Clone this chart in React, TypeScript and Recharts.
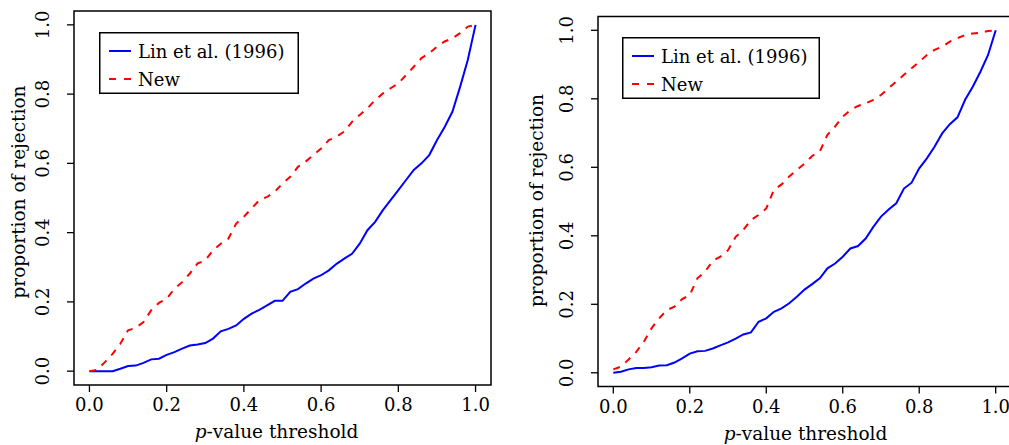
import React from 'react'
import {
  Label,
  Legend,
  Line,
  LineChart,
  ReferenceArea,
  XAxis,
  YAxis
} from 'recharts'

// p-value thresholds (x) shared by both panels
const pThreshold = [
  0, 0.02, 0.04, 0.06, 0.08, 0.1, 0.12, 0.14, 0.16, 0.18,
  0.2, 0.22, 0.24, 0.26, 0.28, 0.3, 0.32, 0.34, 0.36, 0.38,
  0.4, 0.42, 0.44, 0.46, 0.48, 0.5, 0.52, 0.54, 0.56, 0.58,
  0.6, 0.62, 0.64, 0.66, 0.68, 0.7, 0.72, 0.74, 0.76, 0.78,
  0.8, 0.82, 0.84, 0.86, 0.88, 0.9, 0.92, 0.94, 0.96, 0.98, 1
]

const linLeft = [
  0, 0, 0, 0, 0.007, 0.015, 0.016, 0.024, 0.034, 0.036,
  0.047, 0.055, 0.065, 0.074, 0.077, 0.081, 0.094, 0.115, 0.122, 0.132,
  0.151, 0.166, 0.177, 0.19, 0.203, 0.203, 0.229, 0.237, 0.253, 0.267,
  0.277, 0.291, 0.31, 0.325, 0.339, 0.368, 0.407, 0.431, 0.465, 0.494,
  0.523, 0.552, 0.581, 0.6, 0.624, 0.667, 0.705, 0.749, 0.821, 0.899, 1
]

const newLeft = [
  0, 0.004, 0.026, 0.05, 0.079, 0.118, 0.125, 0.142, 0.176, 0.197,
  0.209, 0.238, 0.257, 0.282, 0.311, 0.32, 0.349, 0.368, 0.383, 0.426,
  0.446, 0.47, 0.494, 0.503, 0.518, 0.542, 0.561, 0.59, 0.605, 0.624,
  0.643, 0.667, 0.677, 0.692, 0.72, 0.74, 0.759, 0.783, 0.802, 0.817,
  0.831, 0.855, 0.879, 0.904, 0.918, 0.937, 0.952, 0.961, 0.976, 0.995, 1
]

const linRight = [
  0, 0.003, 0.01, 0.014, 0.014, 0.016, 0.021, 0.022, 0.03, 0.042,
  0.056, 0.063, 0.064, 0.071, 0.08, 0.089, 0.1, 0.112, 0.118, 0.149,
  0.159, 0.178, 0.188, 0.203, 0.222, 0.243, 0.259, 0.276, 0.305, 0.319,
  0.339, 0.363, 0.37, 0.392, 0.426, 0.456, 0.477, 0.495, 0.538, 0.555,
  0.597, 0.626, 0.66, 0.699, 0.726, 0.746, 0.797, 0.835, 0.879, 0.928, 1
]

const newRight = [
  0.01, 0.018, 0.039, 0.061, 0.091, 0.13, 0.159, 0.183, 0.193, 0.215,
  0.227, 0.276, 0.295, 0.327, 0.339, 0.358, 0.397, 0.417, 0.446, 0.461,
  0.48, 0.534, 0.55, 0.573, 0.592, 0.611, 0.633, 0.646, 0.695, 0.719,
  0.748, 0.767, 0.779, 0.787, 0.797, 0.811, 0.831, 0.85, 0.87, 0.889,
  0.908, 0.928, 0.943, 0.952, 0.967, 0.977, 0.986, 0.991, 0.993, 0.998, 1
]

const axisTicks = [0, 0.2, 0.4, 0.6, 0.8, 1]
const seriesNames = ['Lin et al. (1996)', 'New']
const xTitle = '-value threshold'
const yTitle = 'proportion of rejection'

const FONT = '"DejaVu Serif", serif'
const BLUE = '#0000ff'
const RED = '#ff0000'
const DASH = '7 7'
const domain: [number, number] = [-0.04, 1.04]

const XTick = (props: any) => {
  const {x, y, payload} = props
  return (
    <text x={x} y={y + 17} textAnchor='middle' fontFamily={FONT} fontSize={18} fill='#000'>
      {payload.value.toFixed(1)}
    </text>
  )
}

const YTick = (props: any) => {
  const {x, y, payload} = props
  const cx = x - 16
  return (
    <text
      x={cx}
      y={y}
      transform={`rotate(-90, ${cx}, ${y})`}
      textAnchor='middle'
      fontFamily={FONT}
      fontSize={18}
      fill='#000'
    >
      {payload.value.toFixed(1)}
    </text>
  )
}

interface PanelProps {
  lin: number[]
  nw: number[]
  chartWidth: number
  margin: {top: number; right: number; left: number; bottom: number}
  xAxisHeight: number
  legendLeft: number
  legendTop: number
  legendWidth: number
  xTitleShift: number
  yTitleGap: number
  yTitleShift: number
}

const LegendBox = ({width}: {width: number}) => (
  <svg width={width} height={62} style={{display: 'block'}}>
    <rect x={0.75} y={0.75} width={width - 1.5} height={60.5} fill='#fff' stroke='#000' strokeWidth={1.5} />
    <line x1={10} x2={32} y1={19} y2={19} stroke={BLUE} strokeWidth={2} />
    <line x1={10} x2={32} y1={47} y2={47} stroke={RED} strokeWidth={2} strokeDasharray='7 8' />
    <text x={39} y={25.5} fontFamily={FONT} fontSize={18} fill='#000'>{seriesNames[0]}</text>
    <text x={39} y={53.5} fontFamily={FONT} fontSize={18} fill='#000'>{seriesNames[1]}</text>
  </svg>
)

const Panel: React.FC<PanelProps> = (p) => {
  const data = pThreshold.map((x, i) => ({p: x, lin: p.lin[i], nw: p.nw[i]}))

  return (
    <LineChart width={p.chartWidth} height={445} data={data} margin={p.margin}>
      <ReferenceArea
        x1={domain[0]}
        x2={domain[1]}
        y1={domain[0]}
        y2={domain[1]}
        fill='none'
        stroke='#000'
        strokeWidth={1.5}
        ifOverflow='visible'
      />
      <XAxis
        dataKey='p'
        type='number'
        domain={domain}
        ticks={axisTicks}
        allowDataOverflow
        axisLine={false}
        tickLine={{stroke: '#000', strokeWidth: 1.3}}
        tickSize={7}
        height={p.xAxisHeight}
        tick={<XTick />}
      >
        <Label
          content={(lp: any) => {
            const vb = lp.viewBox
            return (
              <text
                x={vb.x + vb.width / 2 + p.xTitleShift}
                y={vb.y + 53}
                textAnchor='middle'
                fontFamily={FONT}
                fontSize={18.5}
                fill='#000'
              >
                <tspan fontStyle='italic'>p</tspan>{xTitle}
              </text>
            )
          }}
        />
      </XAxis>
      <YAxis
        type='number'
        domain={domain}
        ticks={axisTicks}
        allowDataOverflow
        axisLine={false}
        tickLine={{stroke: '#000', strokeWidth: 1.3}}
        tickSize={7}
        width={60}
        tick={<YTick />}
      >
        <Label
          content={(lp: any) => {
            const vb = lp.viewBox
            const cx = vb.x + vb.width - p.yTitleGap
            const cy = vb.y + vb.height / 2 + p.yTitleShift
            return (
              <text
                x={cx}
                y={cy}
                transform={`rotate(-90, ${cx}, ${cy})`}
                textAnchor='middle'
                dominantBaseline='central'
                fontFamily={FONT}
                fontSize={18.5}
                fill='#000'
              >
                {yTitle}
              </text>
            )
          }}
        />
      </YAxis>
      <Legend
        layout='vertical'
        align='center'
        verticalAlign='middle'
        wrapperStyle={{left: p.legendLeft, top: p.legendTop, width: p.legendWidth, height: 62}}
        content={() => <LegendBox width={p.legendWidth} />}
      />
      <Line
        dataKey='lin'
        type='linear'
        stroke={BLUE}
        strokeWidth={2}
        dot={false}
        isAnimationActive={false}
      />
      <Line
        dataKey='nw'
        type='linear'
        stroke={RED}
        strokeWidth={2}
        strokeDasharray={DASH}
        dot={false}
        isAnimationActive={false}
      />
    </LineChart>
  )
}

export default function App() {
  return (
    <div style={{position: 'absolute', left: 0, top: 0, width: 1009, height: 445, overflow: 'hidden', background: '#fff'}}>
      <div style={{position: 'absolute', left: 0, top: 0, width: 500, height: 445}}>
        <Panel
          lin={linLeft}
          nw={newLeft}
          chartWidth={500}
          margin={{top: 11, right: 9, left: 14, bottom: 0}}
          xAxisHeight={60}
          legendLeft={99}
          legendTop={32}
          legendWidth={200}
          xTitleShift={-6}
          yTitleGap={56}
          yTitleShift={-6}
        />
      </div>
      <div style={{position: 'absolute', left: 500, top: 0, width: 509, height: 445, overflow: 'hidden'}}>
        <Panel
          lin={linRight}
          nw={newRight}
          chartWidth={520}
          margin={{top: 16.6, right: 9, left: 38, bottom: 0}}
          xAxisHeight={58.5}
          legendLeft={122}
          legendTop={37}
          legendWidth={198}
          xTitleShift={1}
          yTitleGap={61}
          yTitleShift={-1}
        />
      </div>
    </div>
  )
}
